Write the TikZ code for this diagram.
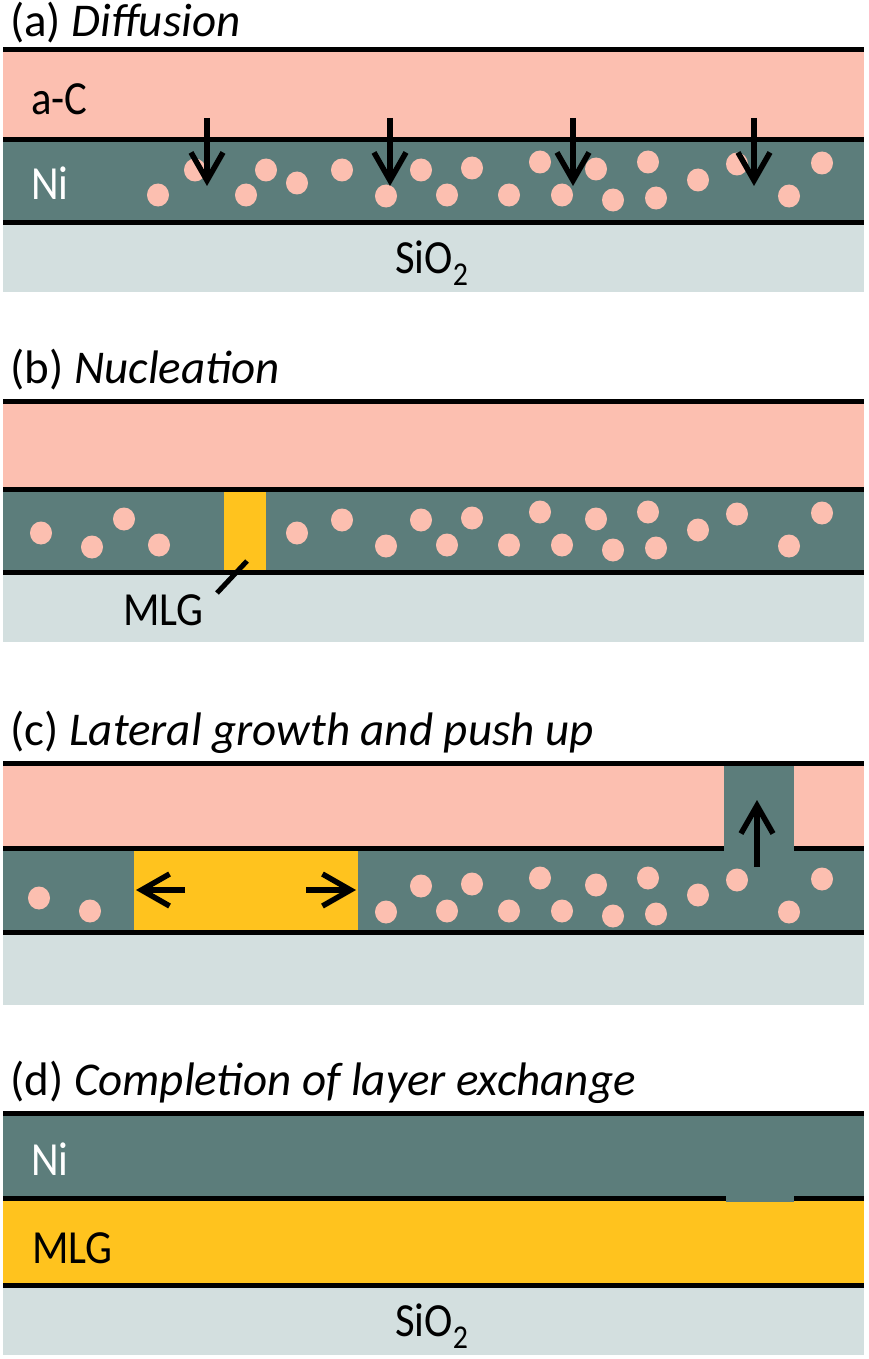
\documentclass[tikz,border=0pt]{standalone}
\usepackage{fontspec}
\usepackage{graphicx}
\setmainfont{Carlito}
\usetikzlibrary{arrows.meta}
\definecolor{aC}{HTML}{FCBFB0}
\definecolor{ni}{HTML}{5C7D7B}
\definecolor{sio}{HTML}{D3DFDF}
\definecolor{mlg}{HTML}{FFC31E}
\newcommand{\tallt}[1]{\scalebox{0.97}[1.08]{#1}}
\begin{document}
\begin{tikzpicture}[x=1pt,y=-1pt,
  blk/.style={line width=5pt},
  arr/.style={line width=5.5pt,-{Straight Barb[length=28pt,width=32pt]}},
  ttl/.style={anchor=base west,inner sep=0pt,font=\fontsize{47}{51}\selectfont},
  lbl/.style={anchor=base west,inner sep=0pt,font=\fontsize{44}{48}\selectfont},
  dotf/.style={fill=aC}]
\useasboundingbox (0,0) rectangle (868,1359);
\fill[white] (0,0) rectangle (868,1359);

% ---------- (a) ----------
\node[ttl] (ta) at (10,37) {(a) \textit{Diffusion}};
\fill[aC] (3,50) rectangle (864,140);
\fill[ni] (3,140) rectangle (864,222);
\fill[sio] (3,222) rectangle (864,292);
\foreach \x/\y in {158/195,195/170,246/195,266/170,297/183,342/170,386/196,421/170,447/195,472/168,509/195,540/162,562/195,596/169,613/200,648/162,656/198,698/180,737/164,789/196,822/163}
  \fill[dotf] (\x,\y) ellipse [x radius=11pt,y radius=11.5pt];
\draw[blk] (3,50) -- (864,50);
\draw[blk] (3,140) -- (864,140);
\draw[blk] (3,222) -- (864,222);
\foreach \x [count=\i] in {207,390,573,754}{
  \coordinate (as\i) at (\x,118);
  \coordinate (ae\i) at (\x,186);
  \draw[arr] (as\i) -- (ae\i);
}
\node[lbl] (laC) at (31,115) {\tallt{a-C}};
\node[lbl,text=white] (lNia) at (31,200) {\tallt{Ni}};
\node[lbl] (lSa) at (395,273) {\tallt{SiO\textsubscript{2}}};

% ---------- (b) ----------
\node[ttl] (tb) at (10,383) {(b) \textit{Nucleation}};
\fill[aC] (3,401) rectangle (864,489);
\fill[ni] (3,489) rectangle (864,572);
\fill[sio] (3,572) rectangle (864,642);
\fill[mlg] (224,489) rectangle (266,572);
\foreach \x/\y in {41/533,92/547,124/519,159/545,297/533,342/520,386/546,421/520,447/545,472/518,509/545,540/512,562/545,596/519,613/550,648/512,656/548,698/530,737/514,789/546,822/513}
  \fill[dotf] (\x,\y) ellipse [x radius=11pt,y radius=11.5pt];
\draw[blk] (3,401) -- (864,401);
\draw[blk] (3,489) -- (864,489);
\draw[blk] (3,572) -- (864,572);
\coordinate (pb1) at (247,561);
\coordinate (pb2) at (217,593);
\draw[line width=5pt] (pb1) -- (pb2);
\node[lbl] (lMb) at (123,625) {\tallt{MLG}};

% ---------- (c) ----------
\node[ttl] (tc) at (10,745) {(c) \textit{Lateral growth and push up}};
\fill[aC] (3,763) rectangle (864,848);
\fill[ni] (3,848) rectangle (864,932);
\fill[ni] (724,763) rectangle (794,848);
\fill[sio] (3,932) rectangle (864,1005);
\fill[mlg] (134,848) rectangle (358,932);
\foreach \x/\y in {39/898,90/911,386/912,421/886,447/911,472/884,509/911,540/878,562/911,596/885,613/916,648/878,656/914,698/895,737/880,789/912,822/879}
  \fill[dotf] (\x,\y) ellipse [x radius=11pt,y radius=11.5pt];
\draw[blk] (3,763) -- (864,763);
\draw[blk] (3,848) -- (724,848);
\draw[blk] (794,848) -- (864,848);
\draw[blk] (3,932) -- (864,932);
\coordinate (cl1) at (185,890);
\coordinate (cl2) at (136,890);
\coordinate (cr1) at (306,890);
\coordinate (cr2) at (356,890);
\coordinate (cu1) at (757,867);
\coordinate (cu2) at (757,800);
\draw[arr] (cl1) -- (cl2);
\draw[arr] (cr1) -- (cr2);
\draw[arr] (cu1) -- (cu2);

% ---------- (d) ----------
\node[ttl] (td) at (10,1095) {(d) \textit{Completion of layer exchange}};
\fill[ni] (3,1113) rectangle (864,1198);
\fill[mlg] (3,1198) rectangle (864,1285);
\fill[sio] (3,1285) rectangle (864,1355);
\draw[blk] (3,1113) -- (864,1113);
\draw[blk] (3,1198) -- (864,1198);
\draw[blk] (3,1285) -- (864,1285);
\fill[ni] (726,1194) rectangle (794,1202);
\node[lbl,text=white] (lNid) at (31,1175) {\tallt{Ni}};
\node[lbl] (lMd) at (32,1263) {\tallt{MLG}};
\node[lbl] (lSd) at (395,1336) {\tallt{SiO\textsubscript{2}}};
\end{tikzpicture}
\end{document}
